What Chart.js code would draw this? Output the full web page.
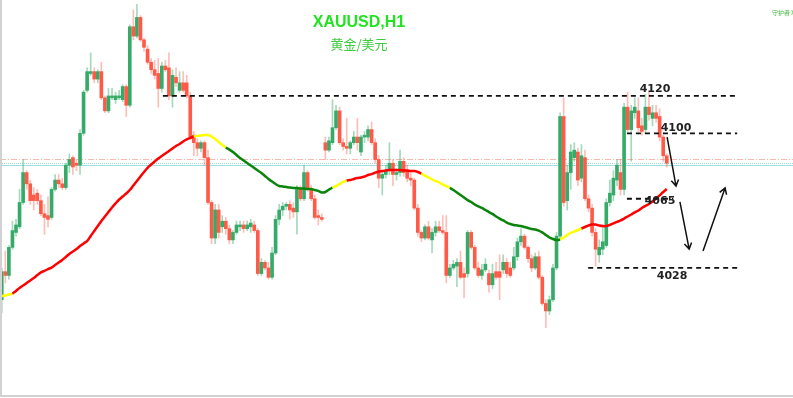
<!DOCTYPE html>
<html>
<head>
<meta charset="utf-8">
<script src="https://cdn.jsdelivr.net/npm/chart.js@4.4.1/dist/chart.umd.min.js"></script>
<style>
  html, body { margin: 0; padding: 0; background: #fff; }
  #wrap { position: relative; width: 793px; height: 398px; }
</style>
</head>
<body>
<div id="wrap"><canvas id="xau"></canvas></div>
<script>
// XAUUSD H1 candles
var opens = [
  4011, 4026, 4024, 4039, 4047, 4050, 4063, 4079, 4073, 4067,
  4068, 4064, 4057, 4056, 4055, 4070, 4075, 4073, 4071, 4083,
  4087, 4084, 4083, 4100, 4123, 4132, 4133, 4129, 4133, 4119,
  4112, 4119, 4118, 4119, 4118, 4125, 4115, 4157, 4152, 4162,
  4150, 4145, 4138, 4134, 4132, 4124, 4136, 4135, 4120, 4130,
  4123, 4127, 4127, 4120, 4099, 4095, 4092, 4095, 4087, 4063,
  4044, 4059, 4050, 4053, 4049, 4043, 4047, 4050, 4051, 4049,
  4050, 4051, 4048, 4025, 4031, 4028, 4023, 4036, 4054, 4059,
  4061, 4062, 4060, 4058, 4070, 4065, 4079, 4070, 4065, 4056,
  4055, 4095, 4091, 4095, 4103, 4112, 4095, 4093, 4092, 4095,
  4098, 4090, 4098, 4098, 4102, 4095, 4086, 4076, 4078, 4080,
  4084, 4078, 4079, 4085, 4080, 4076, 4075, 4060, 4047, 4044,
  4050, 4043, 4047, 4050, 4048, 4047, 4024, 4028, 4029, 4031,
  4025, 4025, 4047, 4039, 4028, 4024, 4027, 4025, 4019, 4026,
  4026, 4027, 4031, 4028, 4028, 4034, 4042, 4045, 4039, 4033,
  4028, 4034, 4023, 4009, 4005, 4011, 4028, 4045, 4109, 4064,
  4079, 4087, 4090, 4076, 4087, 4065, 4060, 4047, 4035, 4038,
  4040, 4063, 4067, 4075, 4079, 4070, 4114, 4102, 4111, 4112,
  4104, 4102, 4114, 4108, 4111, 4109, 4098, 4088
];
var highs = [
  4028, 4037, 4040, 4053, 4054, 4070, 4086, 4080, 4075, 4071,
  4070, 4067, 4062, 4066, 4071, 4078, 4078, 4076, 4084, 4089,
  4088, 4086, 4102, 4123, 4135, 4143, 4135, 4134, 4138, 4120,
  4124, 4124, 4122, 4123, 4126, 4126, 4158, 4166, 4169, 4163,
  4151, 4147, 4140, 4139, 4140, 4138, 4139, 4143, 4134, 4135,
  4133, 4133, 4131, 4122, 4101, 4097, 4096, 4096, 4091, 4064,
  4062, 4062, 4056, 4055, 4051, 4048, 4053, 4053, 4053, 4053,
  4054, 4053, 4049, 4033, 4032, 4031, 4039, 4056, 4062, 4063,
  4063, 4064, 4063, 4072, 4072, 4083, 4080, 4072, 4067, 4059,
  4057, 4098, 4098, 4118, 4115, 4114, 4097, 4108, 4096, 4101,
  4108, 4099, 4101, 4104, 4106, 4097, 4088, 4080, 4083, 4095,
  4086, 4081, 4091, 4087, 4083, 4079, 4076, 4062, 4048, 4051,
  4053, 4049, 4053, 4053, 4056, 4056, 4030, 4032, 4033, 4037,
  4028, 4048, 4048, 4040, 4031, 4030, 4033, 4027, 4030, 4031,
  4035, 4035, 4033, 4031, 4039, 4044, 4049, 4046, 4040, 4035,
  4036, 4037, 4024, 4011, 4013, 4030, 4047, 4111, 4119, 4083,
  4094, 4095, 4092, 4094, 4091, 4067, 4062, 4049, 4043, 4051,
  4065, 4075, 4080, 4086, 4086, 4116, 4122, 4115, 4119, 4119,
  4108, 4121, 4122, 4115, 4115, 4113, 4099, 4089
];
var lows = [
  4004, 4020, 4022, 4038, 4045, 4049, 4062, 4070, 4062, 4059,
  4062, 4056, 4046, 4050, 4054, 4069, 4071, 4070, 4070, 4079,
  4078, 4080, 4078, 4099, 4122, 4131, 4127, 4127, 4118, 4111,
  4111, 4118, 4116, 4118, 4117, 4109, 4114, 4150, 4151, 4149,
  4144, 4137, 4132, 4129, 4114, 4122, 4133, 4118, 4114, 4125,
  4122, 4122, 4119, 4097, 4088, 4088, 4090, 4083, 4062, 4041,
  4041, 4044, 4047, 4046, 4041, 4041, 4046, 4048, 4047, 4048,
  4047, 4047, 4024, 4024, 4027, 4022, 4022, 4035, 4051, 4056,
  4059, 4054, 4055, 4046, 4064, 4064, 4069, 4064, 4054, 4051,
  4053, 4086, 4090, 4094, 4102, 4094, 4091, 4089, 4089, 4094,
  4091, 4088, 4095, 4096, 4094, 4084, 4071, 4067, 4076, 4078,
  4072, 4075, 4077, 4077, 4074, 4072, 4059, 4045, 4042, 4043,
  4043, 4036, 4045, 4047, 4046, 4020, 4023, 4027, 4018, 4022,
  4012, 4023, 4038, 4027, 4023, 4022, 4026, 4015, 4017, 4022,
  4011, 4025, 4023, 4023, 4027, 4032, 4040, 4038, 4031, 4026,
  4027, 4022, 4008, 3996, 4003, 4010, 4027, 4043, 4061, 4059,
  4070, 4085, 4072, 4074, 4064, 4058, 4045, 4029, 4031, 4035,
  4039, 4061, 4064, 4072, 4067, 4067, 4101, 4085, 4108, 4101,
  4099, 4100, 4107, 4104, 4106, 4096, 4085, 4082
];
var closes = [
  4026, 4024, 4039, 4048, 4051, 4063, 4079, 4073, 4064, 4064,
  4064, 4057, 4055, 4054, 4070, 4075, 4073, 4071, 4083, 4086,
  4082, 4083, 4100, 4122, 4133, 4133, 4129, 4133, 4119, 4112,
  4120, 4120, 4120, 4120, 4125, 4115, 4157, 4152, 4162, 4150,
  4146, 4138, 4134, 4131, 4124, 4136, 4134, 4120, 4131, 4127,
  4127, 4123, 4120, 4098, 4095, 4092, 4095, 4087, 4063, 4044,
  4059, 4047, 4053, 4049, 4043, 4047, 4051, 4051, 4049, 4051,
  4052, 4048, 4025, 4031, 4028, 4023, 4036, 4054, 4059, 4061,
  4062, 4059, 4058, 4070, 4065, 4079, 4070, 4065, 4055, 4055,
  4054, 4091, 4096, 4103, 4112, 4095, 4093, 4092, 4095, 4098,
  4095, 4098, 4099, 4102, 4095, 4086, 4076, 4078, 4080, 4084,
  4078, 4079, 4085, 4079, 4076, 4075, 4060, 4047, 4044, 4050,
  4044, 4047, 4050, 4048, 4047, 4024, 4028, 4030, 4031, 4023,
  4023, 4047, 4039, 4028, 4024, 4027, 4030, 4019, 4025, 4023,
  4023, 4031, 4025, 4024, 4034, 4042, 4045, 4039, 4033, 4028,
  4034, 4023, 4009, 4005, 4011, 4028, 4045, 4109, 4063, 4079,
  4090, 4091, 4075, 4088, 4065, 4060, 4047, 4038, 4039, 4042,
  4063, 4068, 4076, 4083, 4070, 4114, 4102, 4112, 4114, 4103,
  4101, 4114, 4110, 4111, 4108, 4098, 4088, 4084
];
// moving average under the candles
var maValues = [
  4013.0, 4013.3, 4013.8, 4014.3, 4015.7, 4017.3, 4018.6, 4019.9, 4021.3, 4022.6,
  4024.2, 4025.6, 4026.4, 4027.4, 4028.2, 4029.6, 4030.9, 4032.3, 4033.9, 4035.5,
  4036.8, 4038.1, 4039.7, 4041.1, 4042.4, 4045.1, 4047.8, 4050.4, 4053.1, 4055.5,
  4057.9, 4060.3, 4062.5, 4064.6, 4066.2, 4067.8, 4069.7, 4072.1, 4074.5, 4076.9,
  4079.3, 4081.5, 4083.3, 4084.9, 4086.5, 4087.9, 4089.2, 4090.5, 4091.9, 4093.2,
  4094.3, 4095.6, 4096.7, 4097.5, 4098.3, 4098.6, 4098.8, 4099.1, 4099.1, 4098.3,
  4097.0, 4095.4, 4093.8, 4092.4, 4091.3, 4090.0, 4088.4, 4086.8, 4085.5, 4084.1,
  4082.8, 4081.5, 4080.1, 4078.8, 4077.2, 4075.6, 4074.2, 4072.9, 4071.8, 4071.6,
  4071.3, 4071.0, 4070.8, 4070.8, 4070.5, 4070.5, 4070.2, 4070.2, 4069.7, 4069.2,
  4068.4, 4068.6, 4069.9, 4071.0, 4071.8, 4072.9, 4074.0, 4074.8, 4075.0, 4075.6,
  4076.1, 4076.4, 4076.9, 4077.7, 4078.2, 4079.0, 4079.6, 4079.8, 4080.1, 4080.4,
  4080.4, 4080.4, 4080.4, 4080.1, 4080.1, 4079.8, 4079.8, 4079.3, 4078.5, 4077.4,
  4076.4, 4075.3, 4074.5, 4073.7, 4072.6, 4071.8, 4070.8, 4069.7, 4068.4, 4067.0,
  4065.7, 4064.3, 4063.3, 4061.9, 4060.9, 4060.1, 4059.0, 4057.9, 4056.9, 4055.5,
  4054.4, 4053.4, 4052.3, 4051.5, 4051.0, 4050.7, 4050.4, 4049.9, 4049.4, 4048.8,
  4048.6, 4048.0, 4047.0, 4045.6, 4044.3, 4043.5, 4042.9, 4043.2, 4044.3, 4045.6,
  4046.7, 4047.5, 4048.3, 4049.1, 4049.9, 4050.7, 4051.2, 4051.2, 4050.7, 4050.4,
  4050.4, 4051.0, 4051.8, 4052.6, 4053.4, 4054.4, 4055.5, 4056.6, 4057.7, 4058.7,
  4060.1, 4061.2, 4062.2, 4063.5, 4065.1, 4066.8, 4068.6, 4070.2
];
// colour of the average from a given bar on
var maSegStart = [0, 3, 54, 63, 93, 97, 118, 126, 157, 163];
var maSegColor = ['#ffff00', '#ff0000', '#ffff00', '#0a840a', '#ffff00', '#ff0000', '#ffff00', '#0a840a', '#ffff00', '#ff0000'];

// hand drawn levels (bar position, price)
var levelPrices = [4120, 4100, 4065, 4028];
var levelFrom = [45.3, 175.8, 175.8, 164.9];
var levelTo = [206.8, 206.8, 188.8, 206.8];
var levelTextX = [183.7, 189.6, 185.1, 188.5];
var levelTextY = [4123.6, 4102.8, 4063.7, 4023.7];
var arrowsFrom = [[187.1, 4098.0], [190.7, 4063.3], [197.2, 4037.1]];
var arrowsTo = [[189.6, 4071.8], [193.3, 4038.1], [203.4, 4070.8]];
var bidPrice = 4086.1;
var askPrices = [4084.1, 4083.1];
var emptyBars = 35;

var labels = [];
for (var i = 0; i < opens.length + emptyBars; i++) labels.push(String(i));

var wicks = [], bodies = [], bodyColors = [], wickColors = [];
for (var i = 0; i < opens.length; i++) {
    wicks.push([lows[i], highs[i]]);
    bodies.push([opens[i], closes[i]]);
    var up = closes[i] >= opens[i];
    bodyColors.push(up ? '#36ab69' : '#ff5a48');
    wickColors.push(up ? 'rgba(54,171,105,0.45)' : 'rgba(255,90,72,0.4)');
}

function maColor(ctx) {
    var idx = ctx.p0DataIndex, c = maSegColor[0];
    for (var k = 0; k < maSegStart.length; k++) {
        if (idx >= maSegStart[k]) c = maSegColor[k];
    }
    return c;
}

var overlay = {
    id: 'overlay',
    beforeDatasetsDraw: function (chart) {
        var ctx = chart.ctx, ys = chart.scales.y, w = chart.width;
        ctx.save();
        ctx.lineWidth = 1;
        ctx.strokeStyle = '#f7b9b0';
        ctx.setLineDash([6, 2, 1, 2]);
        var yb = Math.round(ys.getPixelForValue(bidPrice)) + 0.5;
        ctx.beginPath(); ctx.moveTo(0, yb); ctx.lineTo(w, yb); ctx.stroke();
        ctx.strokeStyle = '#9fdede';
        ctx.setLineDash([1, 1]);
        var ya = Math.round(ys.getPixelForValue(askPrices[0])) + 0.5;
        ctx.beginPath(); ctx.moveTo(0, ya); ctx.lineTo(w, ya); ctx.stroke();
        ctx.setLineDash([]);
        ya = Math.round(ys.getPixelForValue(askPrices[1])) + 0.5;
        ctx.beginPath(); ctx.moveTo(0, ya); ctx.lineTo(w, ya); ctx.stroke();
        ctx.restore();
    },
    afterDatasetsDraw: function (chart) {
        var ctx = chart.ctx, xs = chart.scales.x, ys = chart.scales.y;
        ctx.save();
        // dashed levels
        ctx.strokeStyle = '#111';
        ctx.lineWidth = 1.8;
        ctx.setLineDash([5, 4]);
        for (var i = 0; i < levelPrices.length; i++) {
            var y = ys.getPixelForValue(levelPrices[i]);
            ctx.beginPath();
            ctx.moveTo(xs.getPixelForValue(levelFrom[i]), y);
            ctx.lineTo(xs.getPixelForValue(levelTo[i]), y);
            ctx.stroke();
        }
        ctx.setLineDash([]);
        ctx.fillStyle = '#222';
        ctx.font = 'bold 11px "DejaVu Sans", sans-serif';
        ctx.textAlign = 'center';
        ctx.textBaseline = 'middle';
        for (var i = 0; i < levelPrices.length; i++) {
            ctx.fillText(String(levelPrices[i]), xs.getPixelForValue(levelTextX[i]), ys.getPixelForValue(levelTextY[i]));
        }
        // arrows
        ctx.strokeStyle = '#111';
        ctx.lineWidth = 1.5;
        for (var i = 0; i < arrowsFrom.length; i++) {
            var x0 = xs.getPixelForValue(arrowsFrom[i][0]), y0 = ys.getPixelForValue(arrowsFrom[i][1]);
            var x1 = xs.getPixelForValue(arrowsTo[i][0]), y1 = ys.getPixelForValue(arrowsTo[i][1]);
            var a = Math.atan2(y1 - y0, x1 - x0);
            ctx.beginPath();
            ctx.moveTo(x0, y0); ctx.lineTo(x1, y1);
            ctx.moveTo(x1 - 7 * Math.cos(a - 0.55), y1 - 7 * Math.sin(a - 0.55));
            ctx.lineTo(x1, y1);
            ctx.lineTo(x1 - 7 * Math.cos(a + 0.55), y1 - 7 * Math.sin(a + 0.55));
            ctx.stroke();
        }
        // titles
        ctx.fillStyle = '#1fe41f';
        ctx.font = 'bold 16px "Liberation Sans", Arial, sans-serif';
        ctx.fillText('XAUUSD,H1', 359, 23);
        ctx.fillStyle = '#3ccc3c';
        ctx.font = '13px "Noto Sans CJK SC", sans-serif';
        ctx.fillText('黄金/美元', 359, 44);
        ctx.font = '6px "Noto Sans CJK SC", sans-serif';
        ctx.fillStyle = '#44bb44';
        ctx.textAlign = 'left';
        ctx.fillText('守护者 X', 772, 13);
        // frame
        ctx.strokeStyle = '#d2d2d2';
        ctx.lineWidth = 2;
        ctx.beginPath();
        ctx.moveTo(1, 0); ctx.lineTo(1, 396); ctx.lineTo(chart.width, 396);
        ctx.stroke();
        ctx.restore();
    }
};

new Chart(document.getElementById('xau'), {
    type: 'bar',
    data: {
        labels: labels,
        datasets: [
            {
                type: 'line',
                data: maValues,
                borderWidth: 2.5,
                pointRadius: 0,
                tension: 0.3,
                segment: { borderColor: maColor },
                borderColor: '#ff0000',
                order: 0
            },
            {
                data: bodies,
                backgroundColor: bodyColors,
                barThickness: 3,
                minBarLength: 1,
                grouped: false,
                order: 1
            },
            {
                data: wicks,
                backgroundColor: wickColors,
                barThickness: 1,
                grouped: false,
                order: 2
            }
        ]
    },
    options: {
        responsive: true,
        maintainAspectRatio: false,
        animation: false,
        layout: { padding: 0 },
        plugins: { legend: { display: false }, tooltip: { enabled: false } },
        scales: {
            x: { display: false, offset: true },
            y: { display: false, min: 3958.45, max: 4171.3 }
        }
    },
    plugins: [overlay]
});
</script>
</body>
</html>
